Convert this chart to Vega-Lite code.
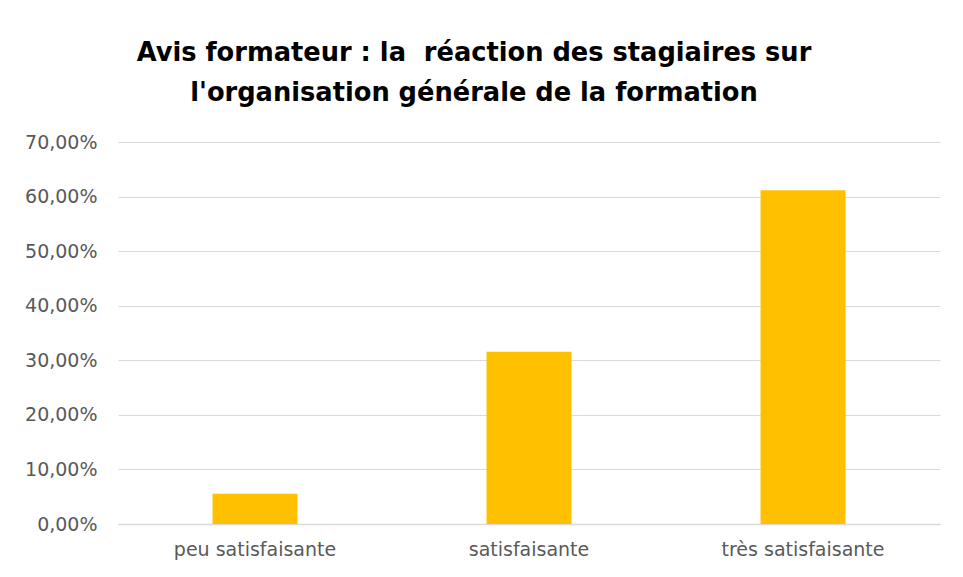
{
  "$schema": "https://vega.github.io/schema/vega-lite/v6.json",
  "autosize": "none",
  "width": 822,
  "height": 382,
  "padding": {"left": 118, "top": 142, "right": 23, "bottom": 53},
  "background": "white",
  "title": {
    "text": ["Avis formateur : la \u00a0réaction des stagiaires sur", "l'organisation générale de la formation"],
    "anchor": "middle",
    "frame": "group",
    "dx": -55,
    "offset": 26,
    "font": "DejaVu Sans",
    "fontSize": 25.7,
    "fontWeight": "bold",
    "color": "#000000",
    "lineHeight": 40
  },
  "data": {
    "values": [
      {"avis": "peu satisfaisante", "pct": 0.0556},
      {"avis": "satisfaisante", "pct": 0.3155},
      {"avis": "très satisfaisante", "pct": 0.6116}
    ]
  },
  "mark": {"type": "bar", "color": "#FFC000"},
  "encoding": {
    "x": {
      "field": "avis",
      "type": "nominal",
      "sort": null,
      "title": null,
      "scale": {"paddingInner": 0.69, "paddingOuter": 0.345},
      "axis": {
        "labelAngle": 0,
        "ticks": false,
        "domainColor": "#d9d9d9",
        "domainWidth": 1.5,
        "labelFont": "DejaVu Sans",
        "labelFontSize": 19,
        "labelColor": "#595959",
        "labelPadding": 16
      }
    },
    "y": {
      "field": "pct",
      "type": "quantitative",
      "title": null,
      "scale": {"domain": [0, 0.7], "nice": false},
      "axis": {
        "values": [0, 0.1, 0.2, 0.3, 0.4, 0.5, 0.6, 0.7],
        "labelExpr": "replace(format(datum.value, '.2%'), '.', ',')",
        "ticks": false,
        "domain": false,
        "gridColor": "#d9d9d9",
        "gridWidth": 1,
        "labelFont": "DejaVu Sans",
        "labelFontSize": 19,
        "labelColor": "#595959",
        "labelPadding": 21
      }
    }
  },
  "config": {"view": {"stroke": null}}
}
